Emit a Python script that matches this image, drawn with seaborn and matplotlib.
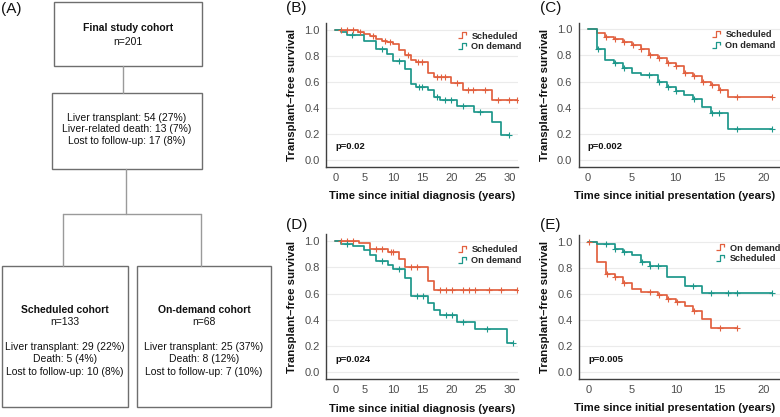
import numpy as np
import pandas as pd
import matplotlib
matplotlib.use("Agg")
import matplotlib.pyplot as plt
import seaborn as sns
from matplotlib.path import Path
from matplotlib.lines import Line2D
from matplotlib.patches import Rectangle

# ---------------- data ----------------
# Panel B: time since initial diagnosis
b_sched_t = [0, 4, 5, 6, 7, 8, 9, 10, 11, 12, 13, 14, 16, 17, 20, 22, 27]
b_sched_s = [1.0, 0.982, 0.967, 0.949, 0.931, 0.915, 0.903, 0.890, 0.846, 0.808,
             0.769, 0.751, 0.667, 0.636, 0.590, 0.538, 0.462]
b_sched_c = [1, 2, 3, 4.3, 6.5, 8.5, 9.5, 12.5, 14.2, 15, 17.5, 18.3, 19, 21,
             22.8, 23.8, 25.8, 28, 30, 31.3]
b_dem_t = [0, 1, 2, 5, 7, 9, 10, 12, 13, 14, 16, 17, 18, 21, 24, 27, 28.5]
b_dem_s = [1.0, 0.98, 0.955, 0.915, 0.851, 0.813, 0.756, 0.697, 0.582, 0.560,
           0.538, 0.482, 0.462, 0.415, 0.367, 0.290, 0.192]
b_dem_c = [2.9, 8, 11, 14.5, 15, 17.5, 19, 20, 22, 25, 30]

# Panel C: time since initial presentation
c_sched_t = [0, 1, 2, 3, 4, 5, 6, 7, 8, 9, 10, 11, 12, 13, 14, 15, 16]
c_sched_s = [1.0, 0.975, 0.941, 0.923, 0.903, 0.880, 0.847, 0.801, 0.783, 0.738,
             0.720, 0.664, 0.643, 0.597, 0.574, 0.533, 0.482]
c_sched_c = [2.1, 3.1, 4.1, 5.1, 6.1, 7.1, 8.1, 9.1, 10.1, 11.1, 12.1, 13.1,
             14.1, 15.1, 17, 21]
c_dem_t = [0, 1, 2, 3, 4, 5, 6, 8, 9, 10, 11, 12, 13, 14, 16]
c_dem_s = [1.0, 0.847, 0.763, 0.740, 0.702, 0.664, 0.648, 0.597, 0.555, 0.525,
           0.500, 0.466, 0.408, 0.357, 0.237]
c_dem_c = [1.1, 3.1, 4.1, 7, 8.1, 9.1, 10.1, 12.1, 14.1, 15, 17, 21]

# Panel D: time since initial diagnosis
d_sched_t = [0, 4, 6, 9, 11, 12, 16, 17]
d_sched_s = [1.0, 0.985, 0.940, 0.915, 0.860, 0.800, 0.695, 0.628]
d_sched_c = [1, 2, 3, 7, 8, 9.5, 10, 13, 14, 18, 19, 20, 22, 23, 24, 26.5, 28.5, 31.3]
d_dem_t = [0, 1, 3, 5, 6, 7, 9, 10, 12, 13, 16, 17, 18, 21, 24, 29.5]
d_dem_s = [1.0, 0.98, 0.965, 0.930, 0.890, 0.847, 0.820, 0.787, 0.716, 0.581,
           0.525, 0.475, 0.437, 0.386, 0.327, 0.221]
d_dem_c = [2, 8, 11, 14, 15, 19, 20, 22, 26, 30.5]

# Panel E: time since initial presentation
e_dem_t = [0, 1, 2, 3, 4, 5, 6, 8, 9, 10, 11, 12, 13, 14]
e_dem_s = [1.0, 0.842, 0.750, 0.727, 0.680, 0.638, 0.617, 0.592, 0.561, 0.536,
           0.503, 0.470, 0.406, 0.337]
e_dem_c = [0.1, 2.1, 3.1, 4.1, 7, 8.1, 9.1, 10.1, 12.1, 15, 17]
e_sched_t = [0, 1, 3, 4, 5, 6, 7, 9, 11, 13]
e_sched_s = [1.0, 0.980, 0.944, 0.918, 0.898, 0.842, 0.814, 0.732, 0.656, 0.605]
e_sched_c = [2, 3.1, 4.1, 6.1, 7.1, 8, 12, 14, 16, 17, 21]

p_values = ["p=0.02", "p=0.002", "p=0.024", "p=0.005"]
x_labels = ["Time since initial diagnosis (years)", "Time since initial presentation (years)",
            "Time since initial diagnosis (years)", "Time since initial presentation (years)"]
y_label = "Transplant\u2013free survival"
x_ticks_diag = [0, 5, 10, 15, 20, 25, 30]
x_ticks_pres = [0, 5, 10, 15, 20]
y_ticks = [0.0, 0.2, 0.4, 0.6, 0.8, 1.0]

ORANGE = "#E2603F"
TEAL = "#1C978A"

# ---------------- figure ----------------
sns.set_theme(style="white")
plt.rcParams["font.family"] = ["Liberation Sans", "DejaVu Sans"]

W, H = 780, 417
fig = plt.figure(figsize=(W / 100, H / 100), dpi=100)

# flowchart (panel A) in pixel coordinates
fa = fig.add_axes([0, 0, 1, 1])
fa.set_xlim(0, W)
fa.set_ylim(H, 0)
fa.axis("off")

box_ec = "#6E6E6E"
conn = "#9A9A9A"
for (x0, y0, x1, y1) in [(54, 2, 201.7, 66), (51.7, 92.7, 201.7, 169.3),
                         (1.7, 265.7, 127.7, 406.7), (137.3, 265.7, 270.7, 406.7)]:
    fa.add_patch(Rectangle((x0, y0), x1 - x0, y1 - y0, fill=False, ec=box_ec, lw=1.0))
for (xa, ya, xb, yb) in [(123.3, 66, 123.3, 92.7), (126, 169.3, 126, 214),
                         (63.3, 214, 201, 214), (63.3, 214, 63.3, 265.7),
                         (201, 214, 201, 265.7)]:
    fa.plot([xa, xb], [ya, yb], color=conn, lw=1.0)

fs_flow = 7.5
def ftxt(x, y, s, bold=False):
    fa.text(x, y, s, ha="center", va="center", fontsize=fs_flow,
            fontweight="bold" if bold else "normal", color="#111111")

ftxt(127.8, 28, "Final study cohort", True)
ftxt(127.8, 41.7, "n=201")
ftxt(126.7, 118, "Liver transplant: 54 (27%)")
ftxt(126.7, 129.5, "Liver-related death: 13 (7%)")
ftxt(126.7, 141.2, "Lost to follow-up: 17 (8%)")
for cx, lines in [(64.7, ["Scheduled cohort", "n=133", "Liver transplant: 29 (22%)",
                          "Death: 5 (4%)", "Lost to follow-up: 10 (8%)"]),
                  (204, ["On-demand cohort", "n=68", "Liver transplant: 25 (37%)",
                         "Death: 8 (12%)", "Lost to follow-up: 7 (10%)"])]:
    for y, s, b in zip([310, 321.7, 346.7, 359.3, 371.7], lines,
                       [True, False, False, False, False]):
        ftxt(cx, y, s, b)

for lab, x, y in [("(A)", 1, 9), ("(B)", 286, 8), ("(C)", 540, 8),
                  ("(D)", 286, 225), ("(E)", 540, 225)]:
    fa.text(x, y, lab, ha="left", va="center", fontsize=11, color="#111111")


def px_axes(l, t, r, b):
    return fig.add_axes([l / W, 1 - b / H, (r - l) / W, (b - t) / H])


def km_frames(times, surv, cens):
    t_end = max(max(times), max(cens))
    curve = pd.DataFrame({"time": list(times) + [t_end], "surv": list(surv) + [surv[-1]]})
    idx = np.searchsorted(np.array(times), np.array(cens), side="right") - 1
    cdf = pd.DataFrame({"time": cens, "surv": np.array(surv)[idx]})
    return curve, cdf


glyph = Path([(-1.0, -0.6), (-0.3, -0.6), (-0.3, 0.6), (0.7, 0.6), (0.7, 0.0)],
             [Path.MOVETO, Path.LINETO, Path.LINETO, Path.LINETO, Path.LINETO])

panels = [
    dict(rect=(326, 23, 518, 166.7), xlim=(-1.6, 31.5), xt=x_ticks_diag, xlab_x=0.5,
         series=[("Scheduled", b_sched_t, b_sched_s, b_sched_c, ORANGE),
                 ("On demand", b_dem_t, b_dem_s, b_dem_c, TEAL)],
         leg=(0.69, 0.94)),
    dict(rect=(578.5, 22.7, 780, 166.7), xlim=(-1.07, 21.9), xt=x_ticks_pres, xlab_x=0.475,
         series=[("Scheduled", c_sched_t, c_sched_s, c_sched_c, ORANGE),
                 ("On demand", c_dem_t, c_dem_s, c_dem_c, TEAL)],
         leg=(0.665, 0.95)),
    dict(rect=(326, 234.5, 518, 379), xlim=(-1.6, 31.4), xt=x_ticks_diag, xlab_x=0.5,
         series=[("Scheduled", d_sched_t, d_sched_s, d_sched_c, ORANGE),
                 ("On demand", d_dem_t, d_dem_s, d_dem_c, TEAL)],
         leg=(0.69, 0.925)),
    dict(rect=(579, 235, 780, 379), xlim=(-1.06, 21.9), xt=x_ticks_pres, xlab_x=0.475,
         series=[("On demand", e_dem_t, e_dem_s, e_dem_c, ORANGE),
                 ("Scheduled", e_sched_t, e_sched_s, e_sched_c, TEAL)],
         leg=(0.685, 0.94)),
]

for i, p in enumerate(panels):
    ax = px_axes(*p["rect"])
    ax.set_facecolor("none")
    for y in y_ticks:
        ax.axhline(y, color="#EBEBEB", lw=0.8, zorder=0)
    handles, labels = [], []
    for name, t, s, c, col in p["series"]:
        curve, cdf = km_frames(t, s, c)
        sns.lineplot(data=curve, x="time", y="surv", ax=ax, color=col, lw=1.25,
                     drawstyle="steps-post", estimator=None, sort=False, zorder=3)
        sns.scatterplot(data=cdf, x="time", y="surv", ax=ax, marker="+", color=col,
                        s=16, linewidth=0.8, zorder=4)
        handles.append(Line2D([], [], marker=glyph, linestyle="None", color=col,
                              markerfacecolor="none", markeredgewidth=0.9, markersize=7))
        labels.append(name)
    ax.legend(handles, labels, loc="upper left", bbox_to_anchor=p["leg"], frameon=False,
              borderaxespad=0, borderpad=0, handlelength=0.9, handletextpad=0.5,
              labelspacing=0.2, prop={"weight": "bold", "size": 6.6})
    ax.set_xlim(*p["xlim"])
    ax.set_ylim(-0.052, 1.05)
    ax.set_xticks(p["xt"])
    ax.set_yticks(y_ticks)
    ax.set_yticklabels([f"{v:.1f}" for v in y_ticks])
    ax.tick_params(length=0, labelsize=8, labelcolor="#4D4D4D", pad=4.5)
    for sp in ["top", "right"]:
        ax.spines[sp].set_visible(False)
    for sp in ["left", "bottom"]:
        ax.spines[sp].set_color("#404040")
        ax.spines[sp].set_linewidth(1.0)
    ax.set_xlabel(x_labels[i], fontsize=8.1, fontweight="bold", color="#111111", labelpad=3)
    ax.xaxis.set_label_coords(p["xlab_x"], -0.17)
    ax.set_ylabel(y_label, fontsize=8.2, fontweight="bold", color="#111111", labelpad=5)
    ax.text(0, 0.1, p_values[i], ha="left", va="center", fontsize=6.8,
            fontweight="bold", color="#111111")

fig.savefig("out.png", dpi=100)
